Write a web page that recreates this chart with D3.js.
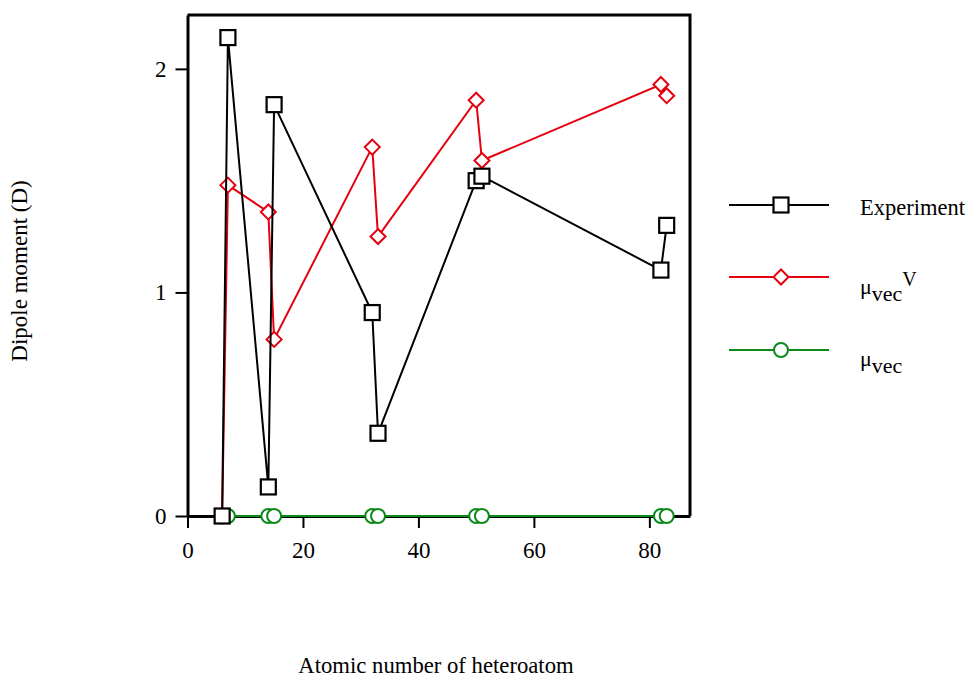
<html>
<script src='https://d3js.org/d3.v7.min.js'></script>
<style>
body {margin: 0; background: white;}
text {font-family: "Liberation Serif", "Times New Roman", serif; fill: black;}
</style>
<body onload='init()'>
<svg width=967 height=677>
</svg>
<script>
// atomic number of the heteroatom
const atomicNumber = [6, 7, 14, 15, 32, 33, 50, 51, 82, 83];
// dipole moments (D)
const experiment = [0, 2.14, 0.13, 1.84, 0.91, 0.37, 1.50, 1.52, 1.10, 1.30];
const muVecV = [0, 1.48, 1.36, 0.79, 1.65, 1.25, 1.86, 1.59, 1.93, 1.88];
const muVec = [0, 0, 0, 0, 0, 0, 0, 0, 0, 0];
const xTicks = [0, 20, 40, 60, 80];
const yTicks = [0, 1, 2];

function init() {
var svg = d3.select("svg");

var x = d3.scaleLinear().domain([0, 87.04]).range([187.5, 690]);
var y = d3.scaleLinear().domain([0, 2.241]).range([516, 15]);

// frame (top and right)
svg.append("path")
  .attr("d", "M" + x.range()[0] + "," + y.range()[1] + "H" + x.range()[1] + "V" + y.range()[0])
  .attr("fill", "none").attr("stroke", "black").attr("stroke-width", 3);

// Y axis
var yAxis = svg.append("g")
  .attr("transform", "translate(" + x.range()[0] + ",0)")
  .call(d3.axisLeft(y).tickValues(yTicks).tickSize(12).tickSizeOuter(0).tickPadding(9).tickFormat(d3.format("d")));
// X axis
var xAxis = svg.append("g")
  .attr("transform", "translate(0," + y.range()[0] + ")")
  .call(d3.axisBottom(x).tickValues(xTicks).tickSize(12).tickSizeOuter(0).tickPadding(14).tickFormat(d3.format("d")));

[xAxis, yAxis].forEach(function (g) {
  g.select(".domain").attr("stroke-width", 3);
  g.selectAll(".tick line").attr("stroke-width", 2);
  g.selectAll(".tick text").style("font-family", "Liberation Serif").style("font-size", "23px");
});

var series = [
  {name: "muVec", values: muVec, color: "#0b8a1a", shape: "circle"},
  {name: "muVecV", values: muVecV, color: "#e5000f", shape: "diamond"},
  {name: "Experiment", values: experiment, color: "black", shape: "square"}
];

function marker(g, shape, color) {
  if (shape == "square") {
    g.append("rect").attr("x", -7.5).attr("y", -7.5).attr("width", 15).attr("height", 15)
      .attr("fill", "white").attr("stroke", color).attr("stroke-width", 2.2);
  } else if (shape == "diamond") {
    g.append("path").attr("d", "M0,-7.5L7.5,0L0,7.5L-7.5,0Z")
      .attr("fill", "white").attr("stroke", color).attr("stroke-width", 2);
  } else {
    g.append("circle").attr("r", 7)
      .attr("fill", "white").attr("stroke", color).attr("stroke-width", 2);
  }
}

var line = d3.line()
  .x(function (d, i) { return x(atomicNumber[i]); })
  .y(function (d) { return y(d); });

series.forEach(function (s) {
  svg.append("path")
    .attr("d", line(s.values))
    .attr("fill", "none").attr("stroke", s.color).attr("stroke-width", 2);
  svg.append("g").selectAll("g")
    .data(s.values)
    .enter()
    .append("g")
      .attr("transform", function (d, i) { return "translate(" + x(atomicNumber[i]) + "," + y(d) + ")"; })
      .each(function () { marker(d3.select(this), s.shape, s.color); });
});

// Legend
var legend = [
  {s: series[2], y: 205},
  {s: series[1], y: 277},
  {s: series[0], y: 350}
];
legend.forEach(function (l) {
  svg.append("line").attr("x1", 729).attr("x2", 829).attr("y1", l.y).attr("y2", l.y)
    .attr("stroke", l.s.color).attr("stroke-width", 2);
  var g = svg.append("g").attr("transform", "translate(781," + l.y + ")");
  marker(g, l.s.shape, l.s.color);
});

svg.append("text").attr("x", 860).attr("y", 215).style("font-size", "22.5px").text("Experiment");

var t1 = svg.append("text").attr("x", 860).attr("y", 294).style("font-size", "22px");
t1.append("tspan").text("\u03bc");
t1.append("tspan").attr("dy", 7).text("vec");
t1.append("tspan").attr("dy", -15).style("font-size", "20px").text("V");

var t2 = svg.append("text").attr("x", 860).attr("y", 366).style("font-size", "22px");
t2.append("tspan").text("\u03bc");
t2.append("tspan").attr("dy", 7).text("vec");

// axis titles
svg.append("text")
  .attr("x", 436).attr("y", 673)
  .style("text-anchor", "middle").style("font-size", "22.7px")
  .text("Atomic number of heteroatom");
svg.append("text")
  .attr("transform", "translate(27,271) rotate(-90)")
  .style("text-anchor", "middle").style("font-size", "23px")
  .text("Dipole moment (D)");
}
</script>
</body>
</html>
